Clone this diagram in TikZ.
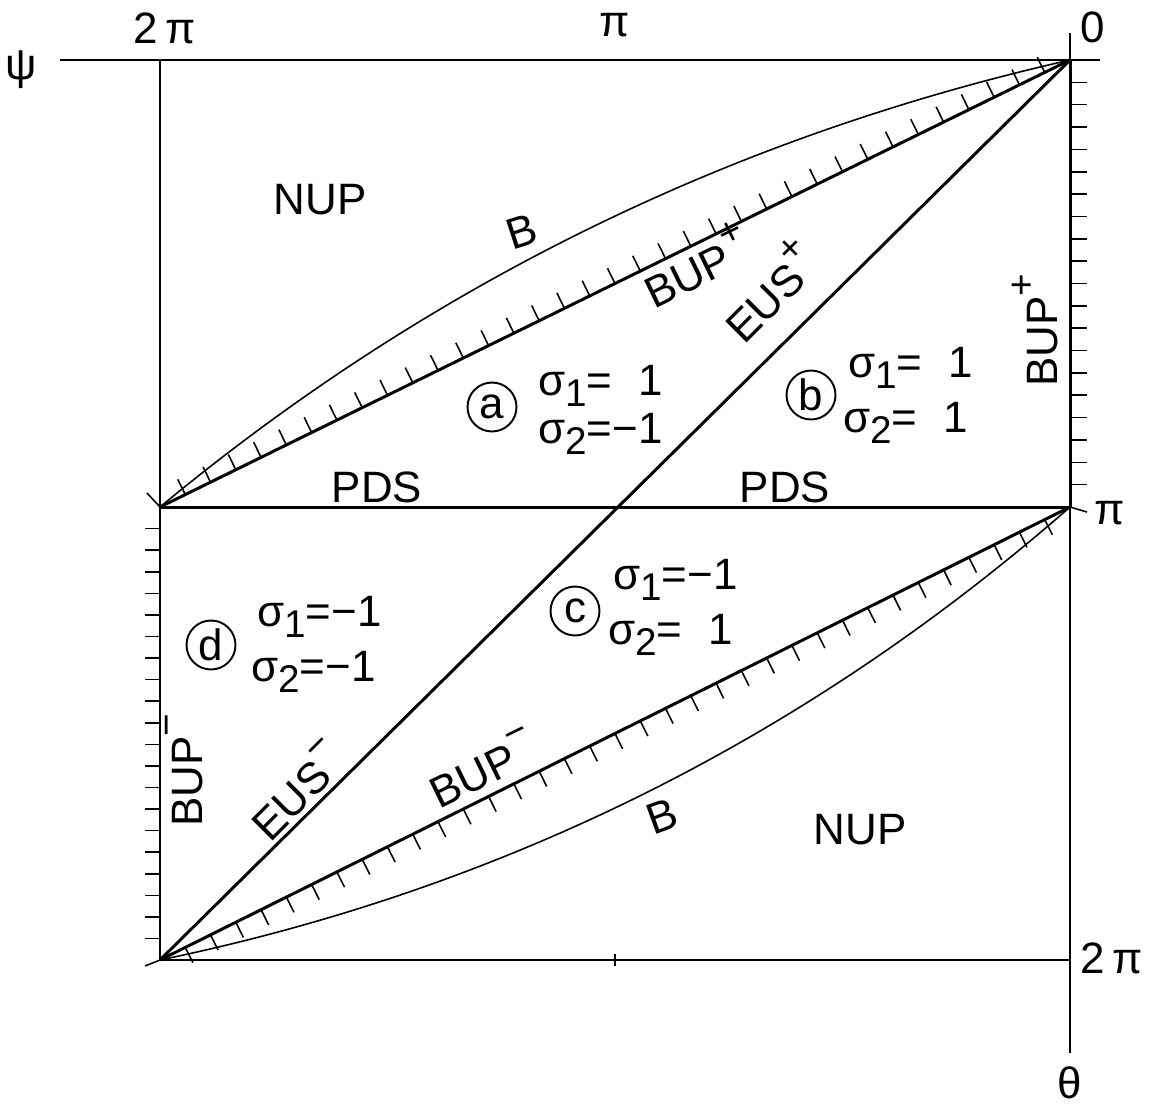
\documentclass[tikz,border=0pt]{standalone}
\usepackage{fontspec}
\setmainfont{Liberation Sans}
\usetikzlibrary{calc}

\newcommand{\lo}[1]{\raisebox{-0.5ex}{\fontsize{22}{22}\selectfont #1}}
\newcommand{\hi}[1]{\raisebox{1.0ex}{\fontsize{22}{22}\selectfont #1}}
\newcommand{\mn}{\hphantom{−}}

\begin{document}
\begin{tikzpicture}[x=0.02cm,y=-0.02cm,
    every node/.style={font=\fontsize{25}{28}\selectfont,inner sep=0pt},
    thn/.style={line width=0.9pt},
    bnd/.style={line width=1.7pt},
    tck/.style={line width=0.9pt},
    zone/.style={draw,circle,line width=1.1pt,minimum size=0.98cm,inner sep=0pt},
    eq/.style={anchor=west}
  ]
  \useasboundingbox (0,0) rectangle (1150,1106);
  % corners of the square
  \coordinate (A) at (160,60);
  \coordinate (O) at (1070,60);
  \coordinate (P) at (160,507);
  \coordinate (Q) at (1070,507);
  \coordinate (C) at (160,960);
  \coordinate (D) at (1070,960);
  % axis ends
  \coordinate (psiend) at (60,60);
  \coordinate (topend) at (1100,60);
  \coordinate (thtop) at (1070,33);
  \coordinate (thend) at (1070,1053);
  \coordinate (pimark) at (615,954);
  % axes and frame (thin)
  \draw[thn] (psiend) -- (topend);
  \draw[thn] (thtop) -- (thend);
  \draw[thn] (A) -- (P);
  \draw[thn] (C) -- (D);
  \draw[tck] (pimark) -- +(0,12);
  % boundary lines (thick)
  \draw[bnd] (O) -- (Q);
  \draw[bnd] (P) -- (C);
  \draw[bnd] (P) -- (O);
  \draw[bnd] (C) -- (O);
  \draw[bnd] (P) -- (Q);
  \draw[bnd] (C) -- (Q);
  % hatching
  \foreach \k in {1,...,19}{\draw[tck] ($(O)!\k/20!(Q)$) -- +(17,0);}
  \foreach \k in {1,...,20}{\draw[tck] ($(P)!\k/21!(C)$) -- +(-15,0);}
  \foreach \k in {1,...,35}{
    \coordinate (t) at ($(P)!\k/36!(O)$);
    \draw[tck] (t) -- ($(t)!0.34cm!90:(O)$);
  }
  \foreach \k in {1,...,35}{
    \coordinate (t) at ($(C)!\k/36!(Q)$);
    \draw[tck] (t) -- ($(t)!0.34cm!-90:(Q)$);
  }
  \draw[tck] (P) -- +(-13,-14);
  \draw[tck] (Q) -- +(17,5);
  \draw[tck] (C) -- +(-15,6);
  % curves B
  \draw[thn] (P) .. controls (428,285) and (730,137) .. (O);
  \draw[thn] (C) .. controls (503,889) and (806,738) .. (Q);
  % axis labels
  \node (lpsi) at (21,70) {ψ};
  \node (ltwopi) at (165,28) {2\,π};
  \node (lpi) at (615,25) {π};
  \node (lzero) at (1093,27) {0};
  \node (rpi) at (1110,513) {π};
  \node (rtwopi) at (1112,958) {2\,π};
  \node (ltheta) at (1070,1083) {θ};
  % region and line labels
  \node (nup1) at (320,200) {NUP};
  \node (nup2) at (860,830) {NUP};
  \node[rotate=18] (b1) at (522,232) {B};
  \node[rotate=20] (b2) at (662,816) {B};
  \node[rotate=26] (bupp) at (695,264) {BUP\hi{+}};
  \node[rotate=45] (eusp) at (768,290) {EUS\hi{+}};
  \node[rotate=90] (buppv) at (1035,330) {BUP\hi{+}};
  \node (pds1) at (377,487) {PDS};
  \node (pds2) at (785,487) {PDS};
  \node[rotate=26] (bupm) at (482,768) {BUP\hi{−}};
  \node[rotate=45] (eusm) at (297,790) {EUS\hi{−}};
  \node[rotate=90] (bupmv) at (184,770) {BUP\hi{−}};
  % zones a-d
  \node[zone] (za) at (492,407) {a};
  \node[eq] (za1) at (538,386) {σ\lo{1}=\mn1};
  \node[eq] (za2) at (538,434) {σ\lo{2}=−1};
  \node[zone] (zb) at (811,395) {b};
  \node[eq] (zb1) at (848,368) {σ\lo{1}=\mn1};
  \node[eq] (zb2) at (843,423) {σ\lo{2}=\mn1};
  \node[zone] (zc) at (575,611) {c};
  \node[eq] (zc1) at (613,580) {σ\lo{1}=−1};
  \node[eq] (zc2) at (608,635) {σ\lo{2}=\mn1};
  \node[zone] (zd) at (211,645) {d};
  \node[eq] (zd1) at (257,617) {σ\lo{1}=−1};
  \node[eq] (zd2) at (251,672) {σ\lo{2}=−1};
\end{tikzpicture}
\end{document}
